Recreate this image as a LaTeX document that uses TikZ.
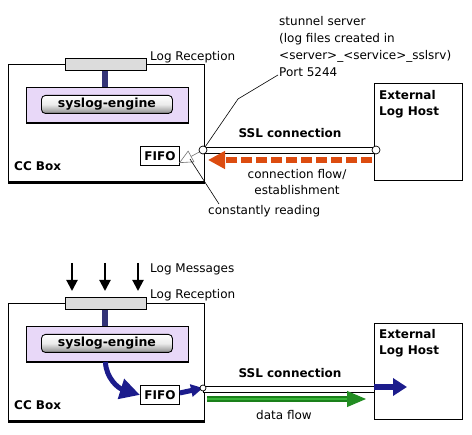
\documentclass[tikz,border=0pt]{standalone}
\usepackage{fontspec}
\setmainfont{DejaVu Sans}
\usetikzlibrary{arrows.meta}
\definecolor{lav}{HTML}{E8D8F8}
\definecolor{barg}{HTML}{DCDCDC}
\definecolor{conn}{HTML}{333377}
\definecolor{navy}{HTML}{1C1C8C}
\definecolor{orng}{HTML}{DC4C10}
\definecolor{gdark}{HTML}{1A801A}
\definecolor{glight}{HTML}{40C040}
\newcommand{\regfont}{\fontsize{12}{14}\selectfont}
\newcommand{\boldfont}{\fontsize{12}{14}\selectfont\bfseries}
\tikzset{
  box/.style={draw=black, line width=0.9pt, fill=white, inner sep=0pt, anchor=north west},
  barbox/.style={box, fill=barg},
  lavbox/.style={box, fill=lav},
  btn/.style={draw=black, line width=0.9pt, rounded corners=4pt, top color=white, bottom color=black!45, middle color=black!8, inner sep=0pt, anchor=north west, font=\fontsize{12.5}{14}\selectfont\bfseries},
  fifo/.style={box, font=\boldfont},
  lbl/.style={inner sep=0pt, anchor=base west, font=\regfont},
  blbl/.style={inner sep=0pt, anchor=base west, font=\boldfont},
  clbl/.style={inner sep=0pt, anchor=base, font=\regfont},
  port/.style={circle, draw=black, fill=white, line width=0.7pt, inner sep=0pt},
  tube/.style={draw=black, line width=0.8pt, fill=white},
  leader/.style={draw=black, line width=0.6pt},
  stem/.style={conn, line width=6pt},
  navyarrow/.style={navy, line width=5pt, -{Triangle[length=#1, width=#1]}},
}
\begin{document}
\begin{tikzpicture}[x=1pt, y=-1pt, font=\regfont]
\useasboundingbox (0,0) rectangle (472,435);

% ===== top diagram =====
\node[box, minimum width=196pt, minimum height=117pt] (cc1) at (8,64) {};
\draw[line width=3pt] ([yshift=-0.5pt]cc1.south west) -- ([yshift=-0.5pt]cc1.south east);
\node[barbox, minimum width=81pt, minimum height=12pt] (bar1) at (65,58) {};
\node[lavbox, minimum width=162pt, minimum height=35pt] (eng1) at (26,87) {};
\draw[line width=2pt] (eng1.south west) -- (eng1.south east);
\draw[stem] ([xshift=-1pt]bar1.south) -- ([xshift=-1pt]bar1.south |- eng1.north);
\node[btn, minimum width=131pt, minimum height=18pt] (btn1) at (41,95) {syslog-engine};
\node[fifo, minimum width=39pt, minimum height=19pt] (fifo1) at (140,146) {FIFO};
\node[blbl] (ccl1) at (14,171) {CC Box};
\node[lbl] (lr1) at (150,61) {Log Reception};

\node[box, minimum width=88pt, minimum height=97pt] (ext1) at (374,83) {};
\node[blbl] (ext1a) at (379,100) {External};
\node[blbl] (ext1b) at (379,116) {Log Host};

\coordinate (t1a) at (203,150);
\coordinate (t1b) at (376,150);
\path[tube] (203,147) rectangle (376,153);
\node[blbl, anchor=base] (ssl1) at (290,138) {SSL connection};

\coordinate (or1) at (372,160);
\coordinate (or2) at (208,160);
\draw[orng, line width=6pt, dash pattern=on 11pt off 4pt] (or1) -- ([xshift=14pt]or2);
\draw[orng, line width=6pt, -{Triangle[length=17pt, width=17pt]}] ([xshift=16pt]or2) -- (or2);
\node[clbl] (cf1) at (297,179) {connection flow/};
\node[clbl] (cf2) at (297,195) {establishment};

% leader lines
\coordinate (stk) at (238,99);
\coordinate (stend) at (278,75);
\node[lbl] (st1) at (279,26) {stunnel server};
\node[lbl] (st2) at (279,43) {(log files created in};
\node[lbl] (st3) at (279,60) {<server>\_<service>\_sslsrv)};
\node[lbl] (st4) at (279,77) {Port 5244};
\draw[leader] (t1a) -- (stk) -- (stend);

\coordinate (rd) at (179,163);
\draw[black!55, line width=0.6pt, -{Triangle[open, fill=white, length=14pt, width=13pt]}] (t1a) -- (rd);
\coordinate (crd) at (219,204);
\draw[leader] (crd) -- (190,159);
\node[lbl] (cr) at (208,215) {constantly reading};

\node[port, minimum size=8pt] (p1a) at (t1a) {};
\node[port, minimum size=8pt] (p1b) at (t1b) {};

% ===== bottom diagram =====
\node[box, minimum width=196pt, minimum height=117pt] (cc2) at (8,303) {};
\draw[line width=3pt] ([yshift=-0.5pt]cc2.south west) -- ([yshift=-0.5pt]cc2.south east);
\node[barbox, minimum width=81pt, minimum height=12pt] (bar2) at (65,297) {};
\node[lavbox, minimum width=162pt, minimum height=35pt] (eng2) at (26,326) {};
\draw[line width=2pt] (eng2.south west) -- (eng2.south east);
\draw[stem] ([xshift=-1pt]bar2.south) -- ([xshift=-1pt]bar2.south |- eng2.north);
\node[btn, minimum width=131pt, minimum height=18pt] (btn2) at (41,334) {syslog-engine};
\node[fifo, minimum width=39pt, minimum height=19pt] (fifo2) at (140,385) {FIFO};
\node[blbl] (ccl2) at (14,410) {CC Box};
\node[lbl] (lm) at (150,273) {Log Messages};
\node[lbl] (lr2) at (150,299) {Log Reception};

\foreach \x/\n in {72/a,105/b,138/c}{
  \coordinate (m\n) at (\x,263);
  \draw[black, line width=2pt, -{Triangle[length=11pt, width=11pt]}] (m\n) -- (\x,291);
}

\node[box, minimum width=88pt, minimum height=96pt] (ext2) at (374,323) {};
\node[blbl] (ext2a) at (379,339) {External};
\node[blbl] (ext2b) at (379,355) {Log Host};

\path[tube] (203,386) rectangle (374,392);
\node[blbl, anchor=base] (ssl2) at (290,378) {SSL connection};

\coordinate (g1) at (207,399);
\coordinate (g2) at (366,399);
\draw[gdark, line width=6pt] (g1) -- ([xshift=-14pt]g2);
\draw[glight!80!gdark, line width=2pt] (g1) -- ([xshift=-14pt]g2);
\draw[gdark!80!glight, line width=1pt, -{Triangle[length=19pt, width=16pt]}] ([xshift=-16pt]g2) -- (g2);
\node[clbl] (df) at (284,420) {data flow};

\coordinate (p2) at (203,388);
\draw[navyarrow=20pt] ([xshift=-2pt]eng2.south) .. controls (106,378) and (118,388) .. (fifo2.west);
\draw[navyarrow=12pt] ([yshift=2pt]fifo2.east) -- (p2);
\node[port, minimum size=6pt] (pp2) at (p2) {};
\draw[navy, line width=6pt, -{Triangle[length=14pt, width=17pt]}] (ext2.west |- 0,387) -- (407,387);

\end{tikzpicture}
\end{document}
